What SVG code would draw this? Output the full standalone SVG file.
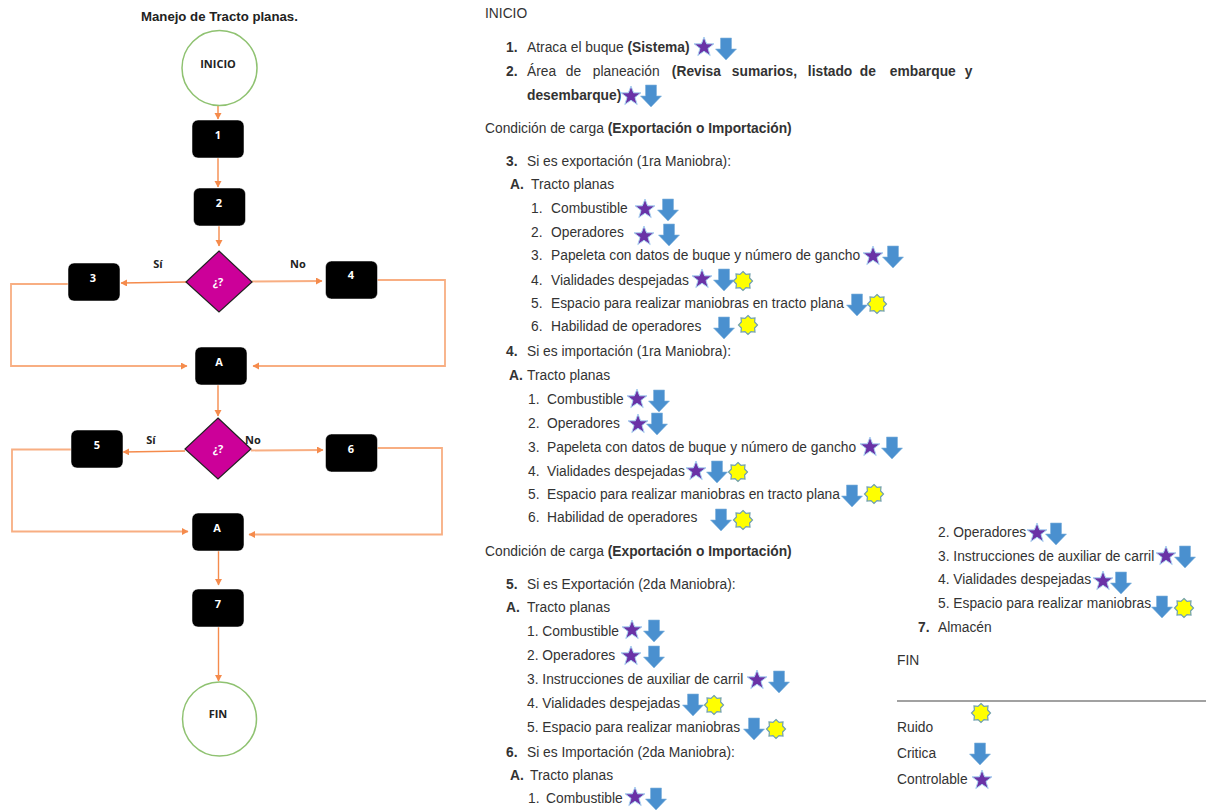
<svg xmlns="http://www.w3.org/2000/svg" width="1206" height="810" viewBox="0 0 1206 810">
<style>
text{font-family:"Liberation Sans",Arial,sans-serif;font-size:13.800px;fill:#333}
.b{font-weight:bold}
.t{font-weight:bold;font-size:13.200px;fill:#222}
.fl{font-family:"Open Sans","Liberation Sans",sans-serif;font-size:11px;font-weight:bold;text-anchor:middle;fill:#222}
.wt{fill:#fff}
.box{fill:#000;stroke:#fff;stroke-width:.5}
.dia{fill:#cc0099;stroke:#222;stroke-width:1.2}
.term{fill:#fff;stroke:#8fc271;stroke-width:1.5}
.c{fill:none;stroke:#f58b4c;stroke-width:1.4;marker-end:url(#ah)}
.c2{fill:none;stroke:#f8ae82;stroke-width:1.8;marker-end:url(#ah)}
.star{fill:#6a32a6;stroke:#a9d3f2;stroke-width:1}
.arr{fill:#4a90cf;stroke:#7fb2dc;stroke-width:.6}
.sun{fill:#ffff00;stroke:#6f9fb0;stroke-width:1.2}
</style>
<defs>
<marker id="ah" markerUnits="userSpaceOnUse" markerWidth="8" markerHeight="8" refX="6" refY="3.5" orient="auto"><path d="M0 0L6.500 3.500L0 7z" fill="#f58b4c"/></marker>
<polygon id="star" class="star" points="0,-10 2.600,-3.200 10,-3.200 4,1.400 6.200,8.500 0,4.300 -6.200,8.500 -4,1.400 -10,-3.200 -2.600,-3.200"/>
<polygon id="arr" class="arr" points="-5.500,-11 5.500,-11 5.500,0 10.500,0 0,11 -10.500,0 -5.500,0"/>
<polygon id="sun" class="sun" points="0,-9.500 3,-6.600 7,-7 6.600,-3 9.500,0 6.600,3 7,7 3,6.600 0,9.500 -3,6.600 -7,7 -6.600,3 -9.500,0 -6.600,-3 -7,-7 -3,-6.600"/>
</defs>
<text class="t" x="141" y="21">Manejo de Tracto planas.</text>
<g id="connectors">
<path class="c" d="M218 105V119"/><path class="c" d="M218 156V187"/><path class="c" d="M219 226V246"/>
<path class="c" d="M186 282L121 283"/><path class="c2" d="M252 281.500L322 281"/>
<path class="c2" d="M68 284H11V366H187"/><path class="c2" d="M377 280H445V366H253"/>
<path class="c" d="M218 385V416"/>
<path class="c" d="M185 451L123 452"/><path class="c2" d="M251 450.500L323 450"/>
<path class="c2" d="M71 449.500H12V531.500H188"/><path class="c2" d="M377 448H442V534.500H249"/>
<path class="c" d="M218.500 551V585"/><path class="c" d="M218.500 627V681"/>
</g>
<g id="n-inicio"><circle class="term" cx="219.500" cy="68" r="37.500"/><text class="fl" x="218" y="68">INICIO</text></g>
<g id="n-1"><rect class="box" x="192" y="120" width="52" height="38" rx="6"/><text class="fl wt" style="fill:#fff" x="218" y="139">1</text></g>
<g id="n-2"><rect class="box" x="193.500" y="188" width="52" height="38" rx="6"/><text class="fl wt" style="fill:#fff" x="219" y="207">2</text></g>
<g id="n-d1"><polygon class="dia" points="219,251 252,282 219,312 186,282"/><text class="fl wt" style="fill:#fff" x="218" y="286">¿?</text></g>
<g id="n-3"><rect class="box" x="68" y="263" width="52" height="38" rx="6"/><text class="fl wt" style="fill:#fff" x="93" y="282">3</text></g>
<g id="n-4"><rect class="box" x="325.500" y="261" width="52" height="38" rx="6"/><text class="fl wt" style="fill:#fff" x="351" y="279">4</text></g>
<g id="n-a1"><rect class="box" x="195" y="347" width="52" height="38" rx="6"/><text class="fl wt" style="fill:#fff" x="219" y="366">A</text></g>
<g id="n-d2"><polygon class="dia" points="218,418 251,449 218,479 185,449"/><text class="fl wt" style="fill:#fff" x="218" y="453">¿?</text></g>
<g id="n-5"><rect class="box" x="71" y="430" width="52" height="38" rx="6"/><text class="fl wt" style="fill:#fff" x="97" y="449">5</text></g>
<g id="n-6"><rect class="box" x="325.500" y="434" width="52" height="38" rx="6"/><text class="fl wt" style="fill:#fff" x="351" y="453">6</text></g>
<g id="n-a2"><rect class="box" x="192" y="513" width="52" height="38" rx="6"/><text class="fl wt" style="fill:#fff" x="217" y="532">A</text></g>
<g id="n-7"><rect class="box" x="192" y="589" width="52" height="38" rx="6"/><text class="fl wt" style="fill:#fff" x="218" y="608">7</text></g>
<g id="n-fin"><circle class="term" cx="219.500" cy="719" r="37"/><text class="fl" x="218" y="718">FIN</text></g>
<text class="fl" x="158" y="268">Sí</text><text class="fl" x="298" y="268">No</text>
<text class="fl" x="151" y="444">Sí</text><text class="fl" x="253" y="444">No</text>

<g id="doc">
<text x="485" y="18">INICIO</text>
<text class="b" x="506" y="51.500">1.</text><text x="527" y="51.500">Atraca el buque <tspan class="b">(Sistema)</tspan></text>
<text class="b" x="506" y="76">2.</text><text y="76"><tspan x="527">Área</tspan><tspan x="562"> de</tspan><tspan x="589"> planeación</tspan><tspan class="b" x="668"> (Revisa</tspan><tspan class="b" x="728"> sumarios,</tspan><tspan class="b" x="804"> listado</tspan><tspan class="b" x="856"> de</tspan><tspan class="b" x="886"> embarque</tspan><tspan class="b" x="961"> y</tspan></text>
<text class="b" x="527" y="100">desembarque)</text>
<text x="485" y="133">Condición de carga <tspan class="b">(Exportación o Importación)</tspan></text>
<text class="b" x="506" y="166">3.</text><text x="527" y="166">Si es exportación (1ra Maniobra):</text>
<text class="b" x="510" y="189">A.</text><text x="531" y="189">Tracto planas</text>
<text x="531" y="213">1.</text><text x="551" y="213">Combustible</text>
<text x="531" y="237">2.</text><text x="551" y="237">Operadores</text>
<text x="531" y="260">3.</text><text x="551" y="260">Papeleta con datos de buque y número de gancho</text>
<text x="531" y="285">4.</text><text x="551" y="285">Vialidades despejadas</text>
<text x="531" y="308">5.</text><text x="551" y="308">Espacio para realizar maniobras en tracto plana</text>
<text x="531" y="331">6.</text><text x="551" y="331">Habilidad de operadores</text>
<text class="b" x="506" y="356">4.</text><text x="527" y="356">Si es importación (1ra Maniobra):</text>
<text class="b" x="509" y="380">A.</text><text x="527" y="380">Tracto planas</text>
<text x="528" y="404">1.</text><text x="547" y="404">Combustible</text>
<text x="528" y="428">2.</text><text x="547" y="428">Operadores</text>
<text x="528" y="452">3.</text><text x="547" y="452">Papeleta con datos de buque y número de gancho</text>
<text x="528" y="476">4.</text><text x="547" y="476">Vialidades despejadas</text>
<text x="528" y="499">5.</text><text x="547" y="499">Espacio para realizar maniobras en tracto plana</text>
<text x="528" y="522">6.</text><text x="547" y="522">Habilidad de operadores</text>
<text x="485" y="556">Condición de carga <tspan class="b">(Exportación o Importación)</tspan></text>
<text class="b" x="506" y="589">5.</text><text x="527" y="589">Si es Exportación (2da Maniobra):</text>
<text class="b" x="506" y="612">A.</text><text x="527" y="612">Tracto planas</text>
<text x="527" y="636">1. Combustible</text>
<text x="527" y="660">2. Operadores</text>
<text x="527" y="684">3. Instrucciones de auxiliar de carril</text>
<text x="527" y="708">4. Vialidades despejadas</text>
<text x="527" y="732">5. Espacio para realizar maniobras</text>
<text class="b" x="506" y="757">6.</text><text x="527" y="757">Si es Importación (2da Maniobra):</text>
<text class="b" x="510" y="780">A.</text><text x="530" y="780">Tracto planas</text>
<text x="528" y="803">1.</text><text x="546" y="803">Combustible</text>
<text x="938" y="537">2. Operadores</text>
<text x="938" y="561">3. Instrucciones de auxiliar de carril</text>
<text x="938" y="584">4. Vialidades despejadas</text>
<text x="938" y="608">5. Espacio para realizar maniobras</text>
<text class="b" x="918" y="632">7.</text><text x="938" y="632">Almacén</text>
<text x="897" y="665">FIN</text>
<line x1="897" y1="701" x2="1206" y2="701" stroke="#444" stroke-width="1.2"/>
<text x="897" y="732">Ruido</text>
<text x="897" y="758">Critica</text>
<text x="897" y="784">Controlable</text>
</g>
<g id="icons">
<use href="#star" x="704" y="47"/><use href="#arr" x="726" y="49"/>
<use href="#star" x="631" y="96"/><use href="#arr" x="651" y="96"/>
<use href="#star" x="645" y="209"/><use href="#arr" x="668" y="210"/>
<use href="#star" x="644" y="236"/><use href="#arr" x="669" y="235"/>
<use href="#star" x="873" y="256"/><use href="#arr" x="893" y="257"/>
<use href="#star" x="702" y="279"/><use href="#arr" x="724" y="280"/><use href="#sun" x="743" y="281"/>
<use href="#arr" x="857" y="305"/><use href="#sun" x="877" y="304"/>
<use href="#arr" x="724" y="328"/><use href="#sun" x="748" y="325"/>
<use href="#star" x="637" y="399"/><use href="#arr" x="659" y="401"/>
<use href="#star" x="638" y="424"/><use href="#arr" x="657" y="424"/>
<use href="#star" x="870" y="447"/><use href="#arr" x="892" y="448"/>
<use href="#star" x="696" y="471"/><use href="#arr" x="717" y="472"/><use href="#sun" x="738" y="472"/>
<use href="#arr" x="852" y="496"/><use href="#sun" x="874" y="494"/>
<use href="#arr" x="721" y="520"/><use href="#sun" x="743" y="520"/>
<use href="#star" x="632" y="630"/><use href="#arr" x="654" y="631"/>
<use href="#star" x="631" y="656"/><use href="#arr" x="654" y="657"/>
<use href="#star" x="757" y="680"/><use href="#arr" x="779" y="682"/>
<use href="#arr" x="693" y="705"/><use href="#sun" x="714" y="705"/>
<use href="#arr" x="754" y="729"/><use href="#sun" x="776" y="729"/>
<use href="#star" x="635" y="797"/><use href="#arr" x="656" y="799"/>
<use href="#star" x="1037" y="533"/><use href="#arr" x="1056" y="534"/>
<use href="#star" x="1166" y="556"/><use href="#arr" x="1185" y="557"/>
<use href="#star" x="1103" y="581"/><use href="#arr" x="1121" y="583"/>
<use href="#arr" x="1162" y="607"/><use href="#sun" x="1184" y="608"/>
<use href="#sun" x="981" y="713"/>
<use href="#arr" x="980" y="754"/>
<use href="#star" x="982" y="780"/>
</g>
</svg>
